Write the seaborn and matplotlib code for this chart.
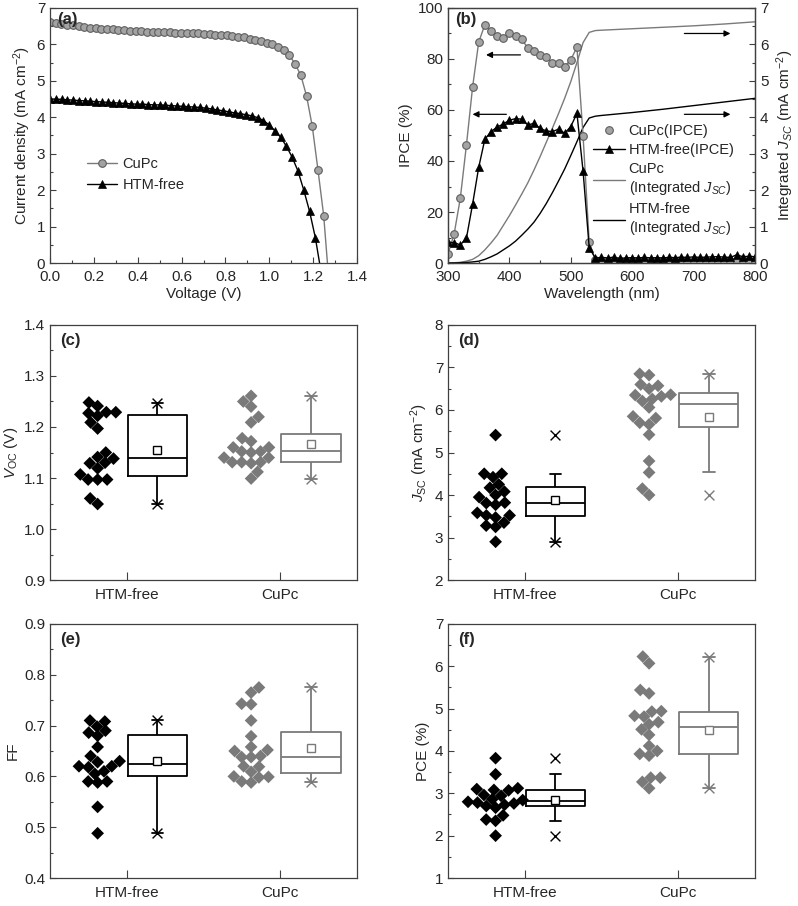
import numpy as np
import pandas as pd
import seaborn as sns
import matplotlib.pyplot as plt
from matplotlib.lines import Line2D
from matplotlib.ticker import MultipleLocator, FormatStrFormatter

# (a) J-V curves (last point of each sweep is below 0 and gets clipped)
v_cupc = np.arange(50) * 0.026
j_cupc = [6.62, 6.58, 6.56, 6.54, 6.52, 6.50, 6.48, 6.46, 6.44, 6.43,
          6.42, 6.41, 6.40, 6.39, 6.38, 6.37, 6.36, 6.35, 6.35, 6.34,
          6.33, 6.33, 6.32, 6.32, 6.31, 6.30, 6.30, 6.29, 6.28, 6.27,
          6.26, 6.25, 6.23, 6.21, 6.19, 6.16, 6.13, 6.09, 6.05, 6.01,
          5.94, 5.84, 5.70, 5.46, 5.15, 4.58, 3.75, 2.55, 1.30, -0.68]
v_htm = np.arange(48) * 0.0263
j_htm = [4.50, 4.50, 4.49, 4.48, 4.47, 4.46, 4.45, 4.44, 4.43, 4.42,
         4.41, 4.40, 4.39, 4.38, 4.37, 4.36, 4.36, 4.35, 4.34, 4.34,
         4.33, 4.32, 4.31, 4.30, 4.29, 4.28, 4.27, 4.25, 4.23, 4.20,
         4.18, 4.15, 4.12, 4.10, 4.07, 4.04, 3.99, 3.91, 3.79, 3.63,
         3.45, 3.20, 2.90, 2.52, 2.00, 1.42, 0.70, -0.25]

# (b) IPCE spectra and integrated Jsc
wavelength = np.arange(300, 801, 10)
ipce_cupc = [3.5, 11.4, 25.3, 46.2, 68.9, 86.6, 93.4, 90.8, 89.2, 88.2,
             90.2, 89.2, 87.7, 84.3, 83.1, 81.6, 80.7, 78.5, 78.5, 77.0,
             79.7, 84.6, 49.9, 8.1, 1.2, 0.9, 0.8, 0.8, 0.7, 0.8,
             0.8, 0.7, 0.8, 0.8, 0.7, 0.8, 0.8, 0.7, 0.8, 0.8,
             0.8, 0.7, 0.8, 0.8, 0.8, 0.9, 0.8, 0.8, 0.9, 0.8, 0.8]
ipce_htm = [8.1, 8.0, 7.1, 9.7, 23.0, 37.5, 48.5, 51.5, 53.3, 54.5,
            56.0, 56.6, 56.4, 54.1, 54.8, 52.8, 51.8, 51.5, 52.5, 50.9,
            53.5, 58.7, 36.0, 6.0, 1.9, 2.2, 2.0, 2.3, 1.8, 2.0,
            2.1, 2.0, 2.2, 2.0, 2.1, 2.0, 2.2, 2.1, 2.3, 2.2,
            2.4, 2.2, 2.3, 2.4, 2.5, 2.3, 2.2, 3.2, 2.5, 2.6, 2.5]
wl_int = list(range(300, 551, 10)) + [600, 650, 700, 750, 800]
jint_cupc = [0, 0.005, 0.02, 0.05, 0.1, 0.2, 0.36, 0.55, 0.76, 1.03,
             1.3, 1.59, 1.89, 2.2, 2.55, 2.92, 3.31, 3.7, 4.1, 4.52,
             4.98, 5.5, 6.05, 6.33, 6.38, 6.39, 6.43, 6.47, 6.51, 6.56, 6.62]
jint_htm = [0, 0.003, 0.008, 0.015, 0.03, 0.05, 0.1, 0.17, 0.25, 0.36,
            0.47, 0.6, 0.76, 0.93, 1.12, 1.36, 1.63, 1.93, 2.25, 2.58,
            2.95, 3.33, 3.72, 3.98, 4.03, 4.05, 4.13, 4.22, 4.32, 4.42, 4.52]

# (c)-(f) device statistics
groups = ['HTM-free', 'CuPc']
voc_htm = [1.248, 1.229, 1.222, 1.227, 1.229, 1.241, 1.209, 1.197, 1.150, 1.141,
           1.129, 1.138, 1.130, 1.119, 1.107, 1.097, 1.097, 1.097, 1.060, 1.049]
voc_cupc = [1.261, 1.250, 1.240, 1.220, 1.209, 1.172, 1.178, 1.160, 1.152, 1.150,
            1.152, 1.160, 1.140, 1.131, 1.129, 1.131, 1.140, 1.131, 1.112, 1.099]
jsc_htm = [5.41, 4.50, 4.50, 4.42, 4.25, 4.17, 4.08, 4.00, 3.95, 3.82,
           3.77, 3.81, 3.52, 3.58, 3.52, 3.47, 3.28, 3.35, 3.25, 2.90]
jsc_cupc = [6.85, 6.82, 6.60, 6.57, 6.50, 6.32, 6.36, 6.35, 6.21, 6.26,
            6.06, 5.85, 5.81, 5.70, 5.66, 5.42, 4.80, 4.53, 4.15, 4.00]
ff_htm = [0.708, 0.710, 0.698, 0.690, 0.686, 0.680, 0.658, 0.640, 0.630, 0.628,
          0.618, 0.620, 0.620, 0.605, 0.610, 0.590, 0.588, 0.590, 0.540, 0.488]
ff_cupc = [0.775, 0.765, 0.743, 0.742, 0.710, 0.679, 0.658, 0.652, 0.650, 0.638,
           0.638, 0.640, 0.619, 0.620, 0.609, 0.599, 0.588, 0.590, 0.598, 0.600]
pce_htm = [3.83, 3.45, 3.12, 3.10, 3.08, 3.07, 2.96, 2.94, 2.86, 2.84,
           2.80, 2.78, 2.76, 2.73, 2.70, 2.66, 2.48, 2.38, 2.35, 2.00]
pce_cupc = [6.23, 6.07, 5.44, 5.36, 4.83, 4.81, 4.93, 4.94, 4.63, 4.68,
            4.51, 4.38, 4.12, 4.00, 3.89, 3.93, 3.37, 3.27, 3.37, 3.12]

GRAY = '#7a7a7a'
pal = {'HTM-free': 'black', 'CuPc': GRAY}
FS = 11
LFS = 10.5

sns.set_theme(style='ticks')
plt.rcParams['font.family'] = ['Liberation Sans', 'DejaVu Sans']
plt.rcParams.update({
    'mathtext.fontset': 'custom',
    'mathtext.rm': 'Liberation Sans',
    'mathtext.it': 'Liberation Sans:italic',
    'mathtext.bf': 'Liberation Sans:bold',
    'axes.edgecolor': '#404040',
    'axes.linewidth': 0.9,
    'font.size': FS,
})


def style(ax, ymaj, ymin, right=False):
    ax.tick_params(which='both', direction='in', top=False, right=right,
                   left=not right, labelsize=FS, width=0.8, color='#404040')
    ax.tick_params(which='major', length=4)
    ax.tick_params(which='minor', length=2.5)
    ax.tick_params(axis='x', pad=5)
    ax.yaxis.set_major_locator(MultipleLocator(ymaj))
    ax.yaxis.set_minor_locator(MultipleLocator(ymin))


def tag(ax, s, x=0.025, y=0.985):
    ax.text(x, y, s, transform=ax.transAxes, ha='left', va='top',
            fontsize=12, fontweight='bold')


fig = plt.figure(figsize=(7.98, 9.06), dpi=100)
W, H = 0.3847, 0.2815
ax_a = fig.add_axes([0.0627, 0.7097, W, H])
ax_b = fig.add_axes([0.5614, 0.7097, W, H])
ax_c = fig.add_axes([0.0627, 0.3598, W, H])
ax_d = fig.add_axes([0.5614, 0.3598, W, H])
ax_e = fig.add_axes([0.0627, 0.0309, W, 0.2804])
ax_f = fig.add_axes([0.5614, 0.0309, W, 0.2804])

# ---- (a)
ball = dict(marker='o', markersize=5.5, markerfacecolor='#a3a3a3',
            markeredgecolor='#5e5e5e', markeredgewidth=0.8)
tri = dict(marker='^', markersize=6, markerfacecolor='black',
           markeredgecolor='black', markeredgewidth=0.5)
sns.lineplot(x=v_cupc, y=j_cupc, ax=ax_a, color=GRAY, lw=1, **ball)
sns.lineplot(x=v_htm, y=j_htm, ax=ax_a, color='black', lw=1, **tri)
ax_a.set_xlim(0, 1.4)
ax_a.set_ylim(0, 7)
style(ax_a, 1, 0.5)
ax_a.xaxis.set_major_locator(MultipleLocator(0.2))
ax_a.xaxis.set_minor_locator(MultipleLocator(0.1))
ax_a.xaxis.set_major_formatter(FormatStrFormatter('%.1f'))
ax_a.set_xlabel('Voltage (V)', fontsize=FS, labelpad=2)
ax_a.set_ylabel('Current density (mA cm$^{-2}$)', fontsize=FS, labelpad=3)
ha = [Line2D([], [], color=GRAY, lw=1, **ball),
      Line2D([], [], color='black', lw=1, **tri)]
ax_a.legend(ha, ['CuPc', 'HTM-free'], loc='upper left', bbox_to_anchor=(0.12, 0.415),
            frameon=False, fontsize=LFS, handlelength=2.1, handletextpad=0.35,
            borderpad=0, borderaxespad=0, labelspacing=0.5)
tag(ax_a, '(a)', 0.023, 0.984)

# ---- (b)
ax_b2 = ax_b.twinx()
sns.lineplot(x=wl_int, y=jint_cupc, ax=ax_b2, color=GRAY, lw=1)
sns.lineplot(x=wl_int, y=jint_htm, ax=ax_b2, color='black', lw=1)
sns.lineplot(x=wavelength, y=ipce_cupc, ax=ax_b, color=GRAY, lw=1, **ball)
sns.lineplot(x=wavelength, y=ipce_htm, ax=ax_b, color='black', lw=1, **tri)
ax_b.set_zorder(ax_b2.get_zorder() + 1)
ax_b.patch.set_visible(False)
ax_b.set_xlim(300, 800)
ax_b.set_ylim(0, 100)
ax_b2.set_ylim(0, 7)
style(ax_b, 20, 10)
style(ax_b2, 1, 0.5, right=True)
ax_b.xaxis.set_major_locator(MultipleLocator(100))
ax_b.xaxis.set_minor_locator(MultipleLocator(50))
ax_b.set_xlabel('Wavelength (nm)', fontsize=FS, labelpad=2)
ax_b.set_ylabel('IPCE (%)', fontsize=FS, labelpad=3)
ax_b2.set_ylabel('Integrated $J_{SC}$ (mA cm$^{-2}$)', fontsize=FS, labelpad=4)
arrow = dict(arrowstyle='-|>', color='black', lw=0.9, mutation_scale=9,
             shrinkA=0, shrinkB=0)
ax_b.annotate('', xy=(362, 81.6), xytext=(418, 81.6), arrowprops=arrow)
ax_b.annotate('', xy=(340, 58.3), xytext=(395, 58.3), arrowprops=arrow)
ax_b.annotate('', xy=(760, 90), xytext=(685, 90), arrowprops=arrow)
ax_b.annotate('', xy=(760, 58.3), xytext=(685, 58.3), arrowprops=arrow)
hb = [Line2D([], [], ls='none', **ball),
      Line2D([], [], color='black', lw=1, **tri),
      Line2D([], [], color=GRAY, lw=1),
      Line2D([], [], color='black', lw=1)]
lb = ['CuPc(IPCE)', 'HTM-free(IPCE)', 'CuPc\n(Integrated $J_{SC}$)',
      'HTM-free\n(Integrated $J_{SC}$)']
ax_b.legend(hb, lb, loc='upper left', bbox_to_anchor=(0.472, 0.545),
            frameon=False, fontsize=LFS, handlelength=2.2, handletextpad=0.25,
            borderpad=0, borderaxespad=0, labelspacing=0.35)
tag(ax_b, '(b)', 0.023, 0.984)


# ---- (c)-(f)
def box_panel(ax, htm, cupc, ylim, ymaj, ymin, ylabel, label, fmt):
    df = pd.DataFrame({'group': ['HTM-free'] * len(htm) + ['CuPc'] * len(cupc),
                       'value': htm + cupc})
    df['idx'] = df['group'].map({g: i for i, g in enumerate(groups)})
    df['pts_x'] = df['idx'] - 0.19
    df['box_x'] = df['idx'] + 0.2
    sns.swarmplot(data=df, x='pts_x', y='value', hue='group', palette=pal,
                  native_scale=True, orient='x', marker='D', size=6.5,
                  linewidth=0, legend=False, ax=ax)
    for g, sub in df.groupby('group'):
        c = pal[g]
        sns.boxplot(data=sub, x='box_x', y='value', native_scale=True, orient='x',
                    color=c, fill=False, width=0.385, whis=1.5, showfliers=False,
                    showmeans=True, linewidth=1.3, capwidths=0.075,
                    meanprops=dict(marker='s', markerfacecolor='white',
                                   markeredgecolor=c, markersize=6,
                                   markeredgewidth=1),
                    ax=ax)
        ext = sub['value'].agg(['min', 'max'])
        sns.scatterplot(x=[sub['box_x'].iloc[0]] * 2, y=ext.values, marker='x',
                        color=c, s=50, linewidth=1, ax=ax, zorder=5)
    ax.set_xlim(-0.5, 1.5)
    ax.set_ylim(*ylim)
    style(ax, ymaj, ymin)
    ax.set_xticks([0, 1], groups)
    ax.xaxis.set_minor_locator(plt.NullLocator())
    ax.tick_params(axis='x', which='major', length=6, pad=6)
    ax.yaxis.set_major_formatter(FormatStrFormatter(fmt))
    ax.set_xlabel('')
    ax.set_ylabel(ylabel, fontsize=FS, labelpad=3)
    tag(ax, label, 0.033, 0.97)


box_panel(ax_c, voc_htm, voc_cupc, (0.9, 1.4), 0.1, 0.05,
          '$V_{\\mathrm{OC}}$ (V)', '(c)', '%.1f')
box_panel(ax_d, jsc_htm, jsc_cupc, (2, 8), 1, 0.5,
          '$J_{\\mathrm{SC}}$ (mA cm$^{-2}$)', '(d)', '%d')
box_panel(ax_e, ff_htm, ff_cupc, (0.4, 0.9), 0.1, 0.05, 'FF', '(e)', '%.1f')
box_panel(ax_f, pce_htm, pce_cupc, (1, 7), 1, 0.5, 'PCE (%)', '(f)', '%d')

fig.savefig('out.png', dpi=100)
